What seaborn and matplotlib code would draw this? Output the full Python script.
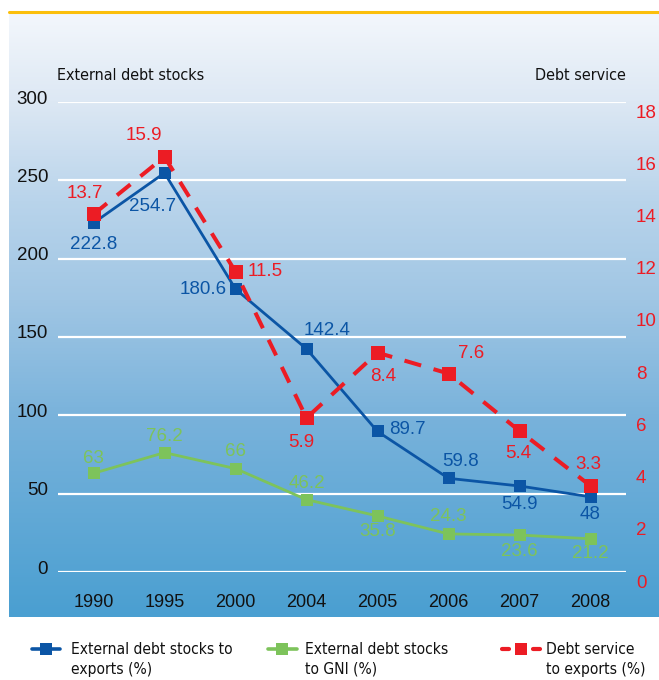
"""External debt indicators 1990-2008, redrawn with Matplotlib + Seaborn."""

import matplotlib.pyplot as plt
import matplotlib.transforms as mtransforms
import numpy as np
import seaborn as sns
from matplotlib.colors import LinearSegmentedColormap
from matplotlib.lines import Line2D

YEARS = ["1990", "1995", "2000", "2004", "2005", "2006", "2007", "2008"]
DEBT_TO_EXPORTS = [222.8, 254.7, 180.6, 142.4, 89.7, 59.8, 54.9, 48]
DEBT_TO_GNI = [63, 76.2, 66, 46.2, 35.8, 24.3, 23.6, 21.2]
SERVICE_TO_EXPORTS = [13.7, 15.9, 11.5, 5.9, 8.4, 7.6, 5.4, 3.3]

LEFT_TICKS = [0, 50, 100, 150, 200, 250, 300]
RIGHT_TICKS = [0, 2, 4, 6, 8, 10, 12, 14, 16, 18]

# where each value label sits relative to its marker (pixels, y up)
BLUE_OFFSETS = [(0, -22), (-12, -34), (-32, 0), (21, 18), (30, 2), (12, 17), (0, -19), (0, -18)]
GREEN_OFFSETS = [(0, 15), (0, 16), (0, 17), (0, 16), (0, -16), (0, 17), (0, -16), (0, -15)]
RED_OFFSETS = [(-9, 21), (-21, 21), (30, 0), (-5, -25), (6, -24), (23, 20), (-1, -22), (-2, 21)]

BLUE = "#0b55a5"
GREEN = "#7dc35b"
RED = "#ec1c24"

W, H = 659, 680
NUM_FONT = ["Liberation Sans", "DejaVu Sans"]
# no Helvetica Narrow here; condensed DejaVu is the closest stand-in
COND = dict(family=["DejaVu Sans"], stretch="condensed", color="#111111")


def fx(px):
    return px / W


def fy(py):
    return 1 - py / H


sns.set_theme(style="white")
plt.rcParams["font.family"] = NUM_FONT

fig = plt.figure(figsize=(W / 100, H / 100), dpi=100)

# gradient panel behind the chart
bg = fig.add_axes([fx(9), fy(617), fx(659) - fx(9), fy(13) - fy(617)])
cmap = LinearSegmentedColormap.from_list(
    "panel",
    [(0.0, "#f3f7fc"), (0.144, "#dde8f4"), (0.31, "#b9d4eb"),
     (0.475, "#a0c6e4"), (0.674, "#78b2db"), (1.0, "#4a9fd1")],
)
bg.imshow(np.linspace(0, 1, 256).reshape(-1, 1), aspect="auto", cmap=cmap,
          extent=[0, 1, 1, 0])
bg.set_axis_off()
fig.add_artist(Line2D([fx(9), fx(659)], [fy(12), fy(12)], color="#fbbf0b", lw=2.2))

ax = fig.add_axes([fx(58), fy(572), fx(626) - fx(58), fy(102) - fy(572)])
ax.patch.set_alpha(0)
ax2 = ax.twinx()
ax2.patch.set_alpha(0)

x = np.arange(len(YEARS))
sns.lineplot(x=x, y=DEBT_TO_GNI, ax=ax, color=GREEN, lw=2.0, marker="s",
             markersize=9, markeredgewidth=0, clip_on=False)
sns.lineplot(x=x, y=DEBT_TO_EXPORTS, ax=ax, color=BLUE, lw=2.0, marker="s",
             markersize=9, markeredgewidth=0, clip_on=False)
sns.lineplot(x=x, y=SERVICE_TO_EXPORTS, ax=ax2, color=RED, lw=2.9, marker="s",
             markersize=9.5, markeredgewidth=0, clip_on=False)
ax2.lines[0].set_dashes((4.3, 3.2))

for axis in (ax, ax2):
    axis.set_xlim(-0.5, len(YEARS) - 0.5)
    axis.set_xlabel("")
    axis.set_ylabel("")
    for s in axis.spines.values():
        s.set_visible(False)

ax.set_ylim(0, 300)
ax.set_yticks(LEFT_TICKS)
ax.grid(axis="y", color="white", lw=1.6)
ax.grid(axis="x", visible=False)
ax.set_xticks(x)
ax.set_xticklabels(YEARS)
ax.tick_params(axis="both", length=0, labelsize=13.5, colors="#111111")
ax.tick_params(axis="y", pad=7.2)
ax.tick_params(axis="x", pad=16, labelsize=13)

ax2.set_ylim(0, 18)
ax2.set_yticks(RIGHT_TICKS)
ax2.grid(False)
ax2.tick_params(axis="y", length=0, labelsize=13.5, colors=RED, pad=7.2)

# left labels sit a bit above their gridline, right ones a bit below
up = mtransforms.ScaledTranslation(0, 5 / 100, fig.dpi_scale_trans)
down = mtransforms.ScaledTranslation(0, -9 / 100, fig.dpi_scale_trans)
for lab in ax.get_yticklabels():
    lab.set_transform(lab.get_transform() + up)
for lab in ax2.get_yticklabels():
    lab.set_transform(lab.get_transform() + down)


def fmt(v):
    return f"{v:g}"


for vals, offs, color, target in (
    (DEBT_TO_GNI, GREEN_OFFSETS, GREEN, ax),
    (DEBT_TO_EXPORTS, BLUE_OFFSETS, BLUE, ax),
    (SERVICE_TO_EXPORTS, RED_OFFSETS, RED, ax2),
):
    for xi, v, (dx, dy) in zip(x, vals, offs):
        target.annotate(fmt(v), (xi, v), xytext=(dx, dy), textcoords="offset pixels",
                        ha="center", va="center", fontsize=13.5, color=color)

fig.text(fx(57), fy(75), "External debt stocks", ha="left", va="center",
         fontsize=11.5, **COND)
fig.text(fx(626), fy(75), "Debt service", ha="right", va="center",
         fontsize=11.5, **COND)

# legend, drawn by hand under the panel
fig.add_artist(Line2D([fx(32), fx(60)], [fy(649), fy(649)], color=BLUE, lw=2.6))
fig.add_artist(Line2D([fx(46)], [fy(649)], color=BLUE, marker="s", markersize=8, mew=0))
fig.add_artist(Line2D([fx(268), fx(297)], [fy(649), fy(649)], color=GREEN, lw=2.6))
fig.add_artist(Line2D([fx(282)], [fy(649)], color=GREEN, marker="s", markersize=8, mew=0))
fig.add_artist(Line2D([fx(502), fx(509)], [fy(649), fy(649)], color=RED, lw=3,
                      solid_capstyle="round"))
fig.add_artist(Line2D([fx(533), fx(540)], [fy(649), fy(649)], color=RED, lw=3,
                      solid_capstyle="round"))
fig.add_artist(Line2D([fx(521)], [fy(649)], color=RED, marker="s", markersize=8.5, mew=0))

legend_labels = [
    (71, "External debt stocks to\nexports (%)"),
    (305, "External debt stocks\nto GNI (%)"),
    (546, "Debt service\nto exports (%)"),
]
for px, text in legend_labels:
    fig.text(fx(px), fy(659.5), text, ha="left", va="center", fontsize=11.2,
             linespacing=1.4, **COND)

fig.savefig("out.png", dpi=100)
plt.close(fig)
